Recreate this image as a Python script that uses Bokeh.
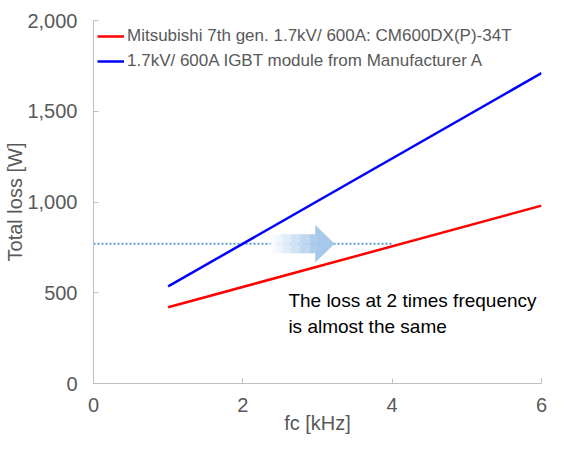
import numpy as np
from bokeh.plotting import figure
from bokeh.models import NumeralTickFormatter, FixedTicker, Range1d, Label
from bokeh.embed import file_html
from bokeh.resources import INLINE

# ---- data ----
fc_khz = [1, 6]
loss_mitsubishi = [420, 980]
loss_manufacturer_a = [535, 1710]
series_names = ["Mitsubishi 7th gen. 1.7kV/ 600A: CM600DX(P)-34T",
                "1.7kV/ 600A IGBT module from Manufacturer A"]
x_ticks = [0, 2, 4, 6]
y_ticks = [0, 500, 1000, 1500, 2000]

ref_fc = [0, 4]
ref_loss = [770, 770]

note_text = "The loss at 2 times frequency\nis almost the same"
note_x = 2.61
note_y = 514

arrow_start, arrow_head_base, arrow_tip = 2.37, 2.97, 3.23
arrow_half_shaft, arrow_half_head = 52, 103

FONT = "Liberation Sans"
GREY = "#595959"

p = figure(width=548, height=436, output_backend="svg", toolbar_location=None,
           x_range=Range1d(0, 6), y_range=Range1d(0, 2000),
           min_border_left=93, min_border_right=7, min_border_top=20, min_border_bottom=52)
p.outline_line_color = None
p.xgrid.visible = False
p.ygrid.visible = False
p.background_fill_color = "white"
p.border_fill_color = "white"

# dotted reference line
p.line(ref_fc, ref_loss, line_color="#5b9bd5", line_width=2, line_dash="2 2")

# gradient arrow
n = 40
edges = np.linspace(arrow_start, arrow_head_base, n + 1)
c0 = np.array([255, 255, 255])
c1 = np.array([166, 200, 234])
cols = []
for i in range(n):
    t = (i + 0.5) / n
    c = (c0 + (c1 - c0) * t).astype(int)
    cols.append("#%02x%02x%02x" % tuple(c))
lvl = ref_loss[0]
p.quad(left=edges[:-1], right=edges[1:] + 0.002, bottom=lvl - arrow_half_shaft,
       top=lvl + arrow_half_shaft, fill_color=cols, line_color=None)
p.patch([arrow_head_base, arrow_head_base, arrow_tip],
        [lvl + arrow_half_head, lvl - arrow_half_head, lvl],
        fill_color="#a6c8ea", line_color=None)

# series
p.line(fc_khz, loss_mitsubishi, line_color="#ff0000", line_width=2.5, legend_label=series_names[0])
p.line(fc_khz, loss_manufacturer_a, line_color="#0000ff", line_width=2.5, legend_label=series_names[1])

# note
p.add_layout(Label(x=note_x, y=note_y, text=note_text, text_font=FONT, text_font_size="19px",
                   text_color="black", text_baseline="top", text_align="left",
                   text_line_height=1.25))

# axes
for ax in (p.xaxis[0], p.yaxis[0]):
    ax.axis_line_color = "#bfbfbf"
    ax.major_tick_line_color = "#bfbfbf"
    ax.major_tick_in = 5
    ax.major_tick_out = 0
    ax.minor_tick_line_color = None
    ax.major_label_text_font = FONT
    ax.major_label_text_font_size = "20px"
    ax.major_label_text_color = GREY
    ax.axis_label_text_font = FONT
    ax.axis_label_text_font_size = "20px"
    ax.axis_label_text_color = GREY
    ax.axis_label_text_font_style = "normal"

p.xaxis.ticker = FixedTicker(ticks=x_ticks)
p.yaxis.ticker = FixedTicker(ticks=y_ticks)
p.yaxis.formatter = NumeralTickFormatter(format="0,0")
p.xaxis.axis_label = "fc [kHz]"
p.yaxis.axis_label = "Total loss [W]"
p.xaxis.major_label_standoff = 14
p.yaxis[0].major_label_standoff = 16
p.xaxis.axis_label_standoff = -3
p.yaxis[0].axis_label_standoff = -2

# legend
lg = p.legend[0]
lg.location = "top_left"
lg.margin = 4
lg.padding = 2
lg.spacing = 1
lg.glyph_width = 27
lg.glyph_height = 24
lg.label_height = 24
lg.label_standoff = 3
lg.label_text_font = FONT
lg.label_text_font_size = "17px"
lg.label_text_color = GREY
lg.border_line_color = None
lg.background_fill_alpha = 0

open("out.html", "w").write(file_html(p, INLINE))
